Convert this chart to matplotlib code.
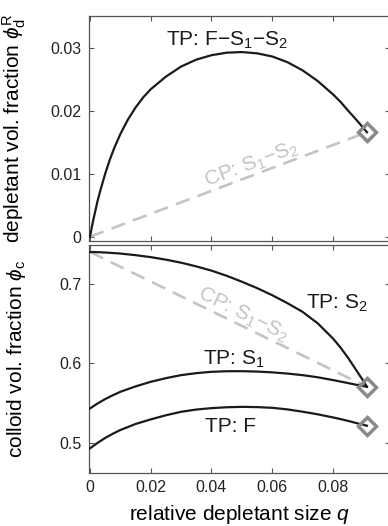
import matplotlib
matplotlib.use("Agg")
import matplotlib.pyplot as plt

plt.rcParams['font.family'] = ['Liberation Sans', 'DejaVu Sans']
plt.rcParams['mathtext.fontset'] = 'custom'
plt.rcParams['mathtext.rm'] = 'Liberation Sans'
plt.rcParams['mathtext.it'] = 'Liberation Sans:italic'
plt.rcParams['mathtext.sf'] = 'Liberation Sans'
plt.rcParams['mathtext.fallback'] = 'stixsans'

# ---------------- data ----------------
# top panel: triple point F-S1-S2, depletant reservoir fraction
q_top = [0, 0.0005, 0.001, 0.0018, 0.0025, 0.0035, 0.005, 0.0065, 0.008, 0.01,
         0.0125, 0.015, 0.0175, 0.02, 0.025, 0.03, 0.035, 0.04, 0.045, 0.05,
         0.055, 0.06, 0.065, 0.07, 0.075, 0.08, 0.0825, 0.085, 0.088, 0.0912]
phi_d_tp = [0, 0.0013, 0.0025, 0.0042, 0.0057, 0.0075, 0.0100, 0.0122, 0.0141,
            0.0163, 0.0186, 0.0205, 0.0221, 0.0234, 0.0254, 0.0270, 0.0281,
            0.0288, 0.0292, 0.0293, 0.0291, 0.0286, 0.0277, 0.0264, 0.0247,
            0.0226, 0.0214, 0.0200, 0.0184, 0.01658]
q_cp = [0, 0.0912]
phi_d_cp = [0, 0.01658]

# bottom panel: colloid volume fractions at the triple point
q_bot = [0, 0.0025, 0.005, 0.0075, 0.01, 0.015, 0.02, 0.025, 0.03, 0.035, 0.04,
         0.045, 0.05, 0.055, 0.06, 0.065, 0.07, 0.075, 0.08, 0.0825, 0.085,
         0.0875, 0.09, 0.0912]
phi_c_S2 = [0.7405, 0.7403, 0.7398, 0.7392, 0.7385, 0.7365, 0.7340, 0.7308,
            0.7270, 0.7223, 0.7170, 0.7105, 0.7030, 0.6950, 0.6860, 0.6760,
            0.6650, 0.6505, 0.6315, 0.6200, 0.6070, 0.5925, 0.5780, 0.5705]
phi_c_S1 = [0.5432, 0.5495, 0.5550, 0.5598, 0.5642, 0.5710, 0.5768, 0.5814,
            0.5852, 0.5877, 0.5894, 0.5901, 0.5902, 0.5897, 0.5887, 0.5872,
            0.5852, 0.5825, 0.5790, 0.5771, 0.5752, 0.5732, 0.5714, 0.5705]
phi_c_F = [0.4929, 0.4998, 0.5060, 0.5113, 0.5160, 0.5236, 0.5294, 0.5346,
           0.5390, 0.5418, 0.5436, 0.5447, 0.5452, 0.5449, 0.5440, 0.5420,
           0.5391, 0.5358, 0.5319, 0.5298, 0.5275, 0.5250, 0.5226, 0.5214]
phi_c_cp = [0.7405, 0.5705]
cp_end_q = [0.0912]
cp_end_top = [0.01658]
cp_end_bot = [0.5705, 0.5214]

x_ticks = [0, 0.02, 0.04, 0.06, 0.08]
x_ticklabels = ['0', '0.02', '0.04', '0.06', '0.08']
y_ticks_top = [0, 0.01, 0.02, 0.03]
y_ticklabels_top = ['0', '0.01', '0.02', '0.03']
y_ticks_bot = [0.5, 0.6, 0.7]
y_ticklabels_bot = ['0.5', '0.6', '0.7']

# ---------------- figure ----------------
W, H = 388, 526
fig = plt.figure(figsize=(W / 100, H / 100), dpi=100)

L, R = 88.5 / W, 390 / W
ax1 = fig.add_axes([L, 1 - 240.5 / H, R - L, (240.5 - 15.5) / H])
ax2 = fig.add_axes([L, 1 - 473 / H, R - L, (473 - 245) / H])

black = '#1a1a1a'
grey_dash = '#c4c4c4'
grey_mark = '#8a8a8a'
spine_c = '#555555'

for ax in (ax1, ax2):
    ax.set_xlim(-0.0005, 0.0988)
    ax.set_xticks(x_ticks)
    for s in ax.spines.values():
        s.set_color(spine_c)
        s.set_linewidth(0.9)
    ax.tick_params(direction='in', length=3.5, width=0.8, color=spine_c,
                   top=True, right=True, labelsize=11.5, pad=5,
                   labelcolor='#222222')
    ax.yaxis.set_label_coords(-0.20, 0.5)

# top panel
ax1.plot(q_cp, phi_d_cp, color=grey_dash, lw=1.9, dashes=(5.5, 3.2), zorder=2)
ax1.plot(q_top, phi_d_tp, color=black, lw=1.6, zorder=3)
ax1.plot(cp_end_q, cp_end_top, marker='D', ms=8.8, mfc='none', mec=grey_mark,
         mew=2.5, ls='none', zorder=4)
ax1.set_ylim(-0.0006, 0.0351)
ax1.set_yticks(y_ticks_top)
ax1.set_yticklabels(y_ticklabels_top)
ax1.set_xticklabels([])
ax1.set_ylabel(r'depletant vol. fraction $\phi_{\rm d}^{\rm R}$', fontsize=15)
ax1.text(0.0451, 0.0312, r'TP: F−S$_1$−S$_2$', fontsize=15, ha='center',
         va='center', color=black)
ax1.text(0.0533, 0.0115, r'CP: S$_1$−S$_2$', fontsize=15, ha='center',
         va='center', color=grey_dash, rotation=20.7)

# bottom panel
ax2.plot(q_cp, phi_c_cp, color=grey_dash, lw=1.9, dashes=(5.5, 3.2), zorder=2)
ax2.plot(q_bot, phi_c_S2, color=black, lw=1.6, zorder=3)
ax2.plot(q_bot, phi_c_S1, color=black, lw=1.6, zorder=3)
ax2.plot(q_bot, phi_c_F, color=black, lw=1.6, zorder=3)
ax2.plot(cp_end_q * 2, cp_end_bot, marker='D', ms=8.8, mfc='none', mec=grey_mark,
         mew=2.5, ls='none', zorder=4)
ax2.set_ylim(0.4618, 0.7493)
ax2.set_yticks(y_ticks_bot)
ax2.set_yticklabels(y_ticklabels_bot)
ax2.set_xticklabels(x_ticklabels)
ax2.set_ylabel(r'colloid vol. fraction $\phi_{\rm c}$', fontsize=15)
ax2.set_xlabel(r'relative depletant size $q$', fontsize=15, labelpad=6)
ax2.text(0.0813, 0.6757, r'TP: S$_2$', fontsize=15, ha='center', va='center',
         color=black)
ax2.text(0.0474, 0.6054, r'TP: S$_1$', fontsize=15, ha='center', va='center',
         color=black)
ax2.text(0.0464, 0.5202, 'TP: F', fontsize=15, ha='center', va='center',
         color=black)
ax2.text(0.0505, 0.661, r'CP: S$_1$−S$_2$', fontsize=15, ha='center',
         va='center', color=grey_dash, rotation=-26.5)

fig.savefig('out.png', dpi=100)
